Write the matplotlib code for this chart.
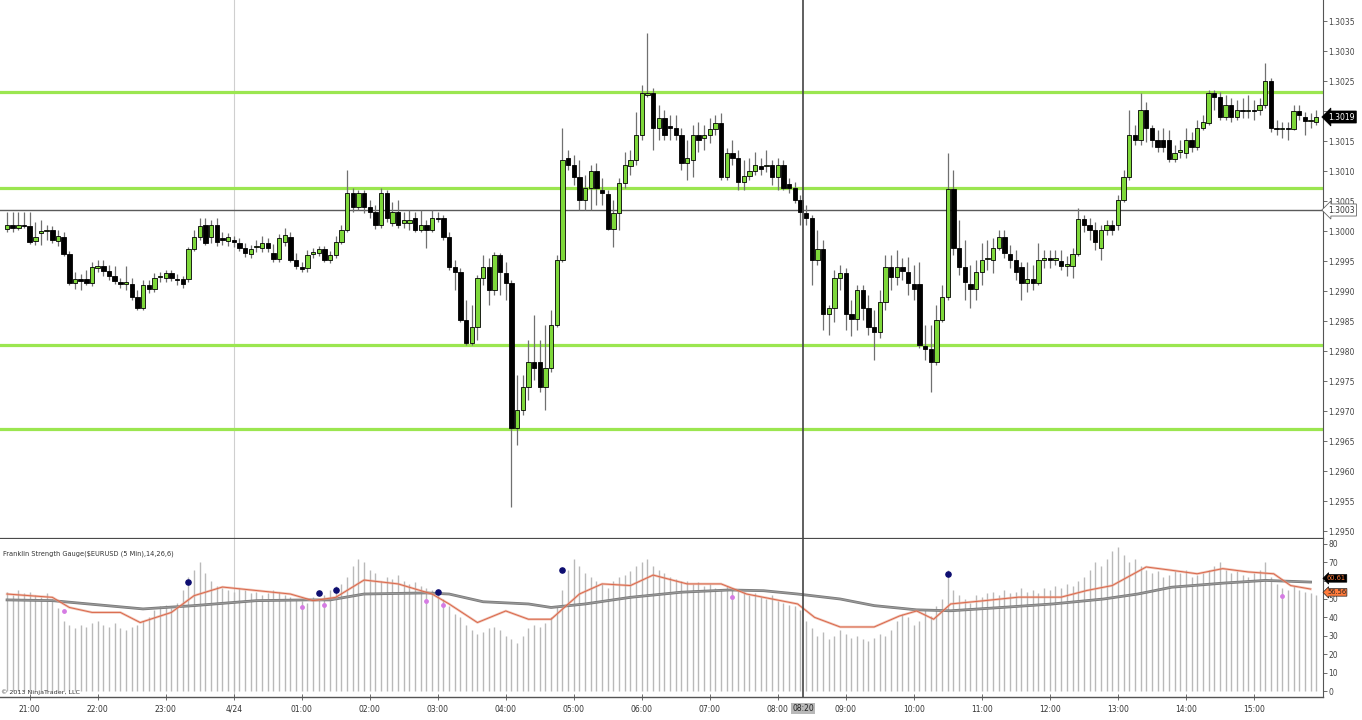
import numpy as np
import matplotlib
matplotlib.use("Agg")
import matplotlib.pyplot as plt
import matplotlib.transforms as mtransforms

# ---------------- data (price values as pips relative to BASE) ----------------
BASE = 1.3000
PIP = 0.0001
first_bar = "20:40"   # 5-minute bars, 4/23 20:40 .. 4/24 15:55

open_pips = [
    0.3, 1.0, 0.5, 1.0, 0.8, -1.7, -0.3, 0.0, 0.2, -1.7,
    -1.0, -3.8, -8.7, -8.0, -8.0, -8.7, -6.2, -5.8, -6.7, -7.5,
    -8.7, -8.8, -8.8, -11.0, -12.8, -9.0, -9.7, -7.7, -7.8, -7.0,
    -8.0, -8.0, -8.0, -3.0, -1.0, 1.0, -1.0, 1.0, -1.2, -1.7,
    -1.7, -2.0, -2.8, -3.8, -2.7, -2.8, -2.0, -3.7, -4.7, -1.8,
    -1.0, -4.8, -6.2, -6.2, -3.8, -3.7, -3.0, -4.8, -4.0, -1.8,
    0.2, 6.3, 4.0, 6.3, 4.0, 3.2, 1.0, 6.3, 1.3, 3.2,
    1.3, 1.3, 2.2, 0.2, 1.0, 0.2, 2.2, 2.2, -1.0, -6.0,
    -6.8, -14.8, -18.7, -16.0, -7.8, -6.0, -9.8, -4.0, -7.0, -8.7,
    -32.8, -29.8, -26.0, -21.8, -21.8, -26.0, -22.8, -15.7, -4.8, 12.2,
    11.0, 9.0, 5.2, 7.2, 10.0, 6.8, 6.2, 0.3, 3.0, 8.0,
    10.8, 11.8, 16.0, 22.7, 23.0, 17.2, 18.8, 17.3, 17.2, 16.0,
    11.3, 11.8, 16.0, 15.5, 16.0, 17.0, 18.0, 9.0, 13.0, 12.2,
    8.2, 9.2, 10.0, 10.8, 10.8, 11.0, 9.0, 11.0, 7.8, 7.2,
    5.2, 3.0, 2.2, -4.8, -3.0, -13.8, -12.8, -7.8, -7.0, -13.8,
    -14.7, -9.8, -12.8, -16.0, -16.8, -11.8, -6.0, -7.7, -6.0, -6.8,
    -8.8, -8.8, -19.2, -19.7, -21.8, -14.8, -11.0, 7.0, -2.8, -6.0,
    -8.8, -9.7, -6.8, -4.7, -4.8, -2.8, -1.0, -3.8, -4.8, -6.0,
    -8.7, -8.0, -8.7, -4.8, -4.7, -4.8, -5.0, -5.8, -5.8, -3.8,
    2.0, 1.0, 0.2, -2.8, 0.2, 1.0, 1.0, 5.2, 9.0, 16.0,
    15.2, 20.2, 17.2, 15.2, 15.2, 15.2, 12.0, 13.2, 13.0, 15.2,
    14.0, 17.2, 18.0, 23.0, 22.3, 19.0, 21.0, 19.0, 20.2, 20.0,
    20.2, 20.2, 21.0, 25.0, 17.2, 17.0, 17.2, 17.0, 20.0, 19.0,
    18.3, 18.2,
]
high_pips = [
    3.2, 3.2, 3.2, 3.2, 3.2, 1.5, 1.8, 1.0, 0.8, 0.2,
    -0.2, -3.3, -6.8, -7.2, -6.5, -5.2, -4.8, -4.8, -5.7, -5.8,
    -7.8, -5.8, -7.8, -9.8, -8.2, -8.2, -7.0, -6.8, -6.5, -6.5,
    -7.2, -7.5, -2.7, 0.2, 2.2, 2.2, 1.8, 2.2, -0.2, -0.3,
    -0.8, -1.2, -2.0, -2.3, -1.5, -0.8, -1.2, -2.2, -0.5, 0.5,
    -0.2, -3.7, -5.2, -3.2, -2.8, -2.5, -2.5, -3.3, -0.8, 1.0,
    10.2, 7.2, 6.8, 6.8, 5.2, 4.3, 7.2, 6.8, 4.8, 5.2,
    3.2, 3.5, 3.2, 3.5, 1.8, 3.5, 3.2, 2.7, -0.2, -4.8,
    -6.2, -11.5, -12.3, -7.3, -4.0, -4.5, -3.5, -3.7, -5.2, -8.2,
    -24.0, -24.0, -18.2, -14.0, -18.2, -15.7, -13.2, -4.0, 17.2, 13.5,
    12.7, 11.8, 9.3, 11.0, 11.3, 8.8, 6.8, 5.2, 8.8, 13.2,
    13.5, 19.8, 24.3, 33.0, 23.8, 21.0, 20.2, 19.3, 19.3, 17.2,
    15.2, 17.7, 18.2, 17.7, 18.8, 19.3, 19.7, 13.8, 15.2, 13.5,
    11.8, 12.2, 13.2, 12.2, 13.5, 11.8, 12.2, 11.8, 8.8, 8.2,
    6.0, 4.3, 2.7, 0.2, -1.5, -12.3, -6.5, -5.7, -6.2, -11.5,
    -9.0, -9.0, -10.7, -13.2, -9.8, -4.0, -4.0, -3.2, -4.5, -4.3,
    -5.7, -5.2, -15.7, -15.7, -12.3, -9.0, 13.0, 10.2, 1.8, -1.5,
    -5.7, -4.8, -2.0, -1.5, -1.2, 0.2, 0.2, -2.3, -3.2, -5.2,
    -5.2, -5.7, -2.0, -3.2, -3.2, -3.2, -3.2, -4.2, -2.8, 3.8,
    2.7, 2.2, 1.5, 1.0, 1.8, 1.8, 6.0, 10.2, 20.2, 17.7,
    23.0, 21.5, 17.7, 16.8, 17.2, 16.8, 14.3, 15.2, 17.2, 16.5,
    18.5, 19.3, 23.5, 23.5, 23.2, 22.7, 22.2, 21.8, 22.2, 22.7,
    21.8, 22.2, 28.0, 25.5, 18.5, 18.2, 18.2, 21.0, 21.0, 19.8,
    19.7, 20.2,
]
low_pips = [
    -0.2, -0.2, 0.2, 0.5, -2.2, -2.3, -2.3, -1.5, -2.0, -2.5,
    -4.2, -9.0, -9.7, -9.8, -9.0, -9.2, -6.8, -7.5, -8.2, -8.8,
    -9.5, -9.8, -11.5, -13.2, -13.2, -10.3, -10.2, -8.5, -8.5, -8.3,
    -9.0, -9.5, -8.5, -3.3, -1.5, -2.3, -2.0, -2.5, -2.3, -2.5,
    -2.7, -3.3, -4.3, -4.5, -3.5, -3.5, -3.5, -5.2, -5.2, -2.5,
    -5.2, -6.3, -6.8, -6.8, -4.5, -4.2, -5.2, -5.3, -4.5, -2.2,
    -0.2, 3.2, 3.5, 3.0, 2.2, 0.3, 0.5, 1.5, 0.8, 0.5,
    0.5, 0.2, -0.2, -0.2, -2.8, -0.2, 1.5, -1.5, -6.5, -9.8,
    -15.2, -19.0, -19.0, -18.2, -9.0, -12.3, -10.7, -10.7, -11.5, -46.0,
    -35.7, -30.7, -28.2, -24.8, -26.8, -29.8, -23.5, -16.0, -5.2, 10.2,
    7.7, 3.5, 3.5, 3.5, 4.3, 4.3, 0.2, -2.7, 0.2, 7.2,
    9.3, 11.0, 15.2, 22.3, 13.5, 15.2, 15.2, 15.2, 15.2, 10.2,
    8.5, 9.0, 13.2, 13.5, 14.7, 16.0, 8.5, 8.5, 11.0, 6.8,
    6.8, 8.5, 9.3, 9.3, 9.8, 7.7, 6.8, 6.8, 6.3, 4.7,
    1.0, 1.0, -9.0, -5.7, -16.5, -17.3, -15.2, -9.8, -16.5, -17.5,
    -16.5, -14.8, -17.3, -21.5, -17.8, -13.2, -9.8, -9.0, -8.2, -10.7,
    -11.5, -19.5, -21.5, -26.8, -22.3, -15.2, -11.5, -4.0, -7.3, -11.5,
    -12.8, -11.5, -9.0, -6.5, -7.0, -3.2, -4.5, -6.2, -8.2, -11.5,
    -10.2, -9.8, -9.0, -6.2, -6.2, -5.7, -6.5, -7.5, -7.8, -4.2,
    -0.2, -1.5, -3.2, -4.8, -0.7, -0.7, 0.2, 4.8, 8.5, 14.3,
    14.3, 14.8, 14.0, 13.2, 13.2, 11.5, 11.5, 12.2, 12.2, 13.2,
    13.5, 16.8, 17.7, 20.2, 18.5, 18.5, 18.2, 18.5, 18.8, 18.8,
    18.5, 19.3, 20.5, 16.5, 16.0, 15.5, 15.2, 16.8, 18.5, 16.0,
    17.2, 17.7,
]
close_pips = [
    1.0, 0.5, 1.0, 0.8, -1.8, -1.0, 0.0, 0.2, -1.5, -0.8,
    -3.8, -8.7, -8.0, -8.3, -8.7, -6.0, -5.8, -6.7, -7.5, -8.3,
    -8.8, -8.7, -11.0, -12.8, -9.0, -9.7, -7.8, -7.5, -7.0, -7.8,
    -8.2, -8.8, -3.0, -1.0, 0.8, -2.0, 1.0, -1.8, -1.5, -1.0,
    -1.8, -2.8, -3.7, -3.0, -2.5, -2.0, -2.8, -4.7, -1.2, -0.7,
    -4.8, -5.8, -6.3, -4.0, -3.7, -3.0, -4.8, -4.0, -1.8, 0.2,
    6.3, 4.0, 6.3, 4.0, 3.2, 1.0, 6.3, 2.2, 3.2, 1.0,
    1.8, 1.8, 0.2, 1.0, 0.2, 2.2, 2.0, -1.0, -6.0, -6.8,
    -14.8, -18.7, -16.0, -7.8, -6.0, -9.8, -4.0, -6.8, -8.7, -32.8,
    -29.8, -26.0, -21.8, -22.8, -26.0, -22.8, -15.7, -4.8, 11.8, 11.0,
    9.0, 5.2, 7.2, 10.0, 7.2, 6.3, 0.3, 3.0, 8.0, 11.0,
    11.8, 16.0, 23.0, 23.0, 17.2, 18.8, 16.0, 17.2, 16.0, 11.3,
    12.2, 16.0, 15.2, 16.0, 17.0, 18.0, 9.0, 13.0, 12.2, 8.2,
    9.2, 10.0, 11.0, 10.3, 11.0, 9.0, 11.0, 7.2, 7.2, 5.2,
    3.2, 2.2, -4.8, -3.0, -13.8, -12.8, -7.8, -7.0, -13.8, -14.7,
    -9.8, -12.8, -16.0, -16.8, -11.8, -6.0, -7.7, -6.0, -6.7, -8.7,
    -9.7, -19.0, -19.7, -21.8, -14.8, -11.0, 7.0, -2.8, -6.0, -8.5,
    -9.7, -6.8, -4.8, -4.5, -2.8, -1.0, -3.7, -4.8, -6.8, -8.7,
    -8.0, -8.7, -4.8, -4.7, -4.8, -4.7, -5.8, -5.7, -3.8, 2.0,
    1.0, 0.2, -1.8, 0.2, 1.0, 0.2, 5.2, 9.0, 16.0, 15.2,
    20.2, 17.2, 15.2, 14.0, 14.0, 12.0, 13.0, 13.3, 15.2, 14.0,
    17.2, 18.2, 23.0, 22.3, 19.0, 21.0, 19.0, 20.2, 20.0, 20.2,
    20.0, 21.0, 25.0, 17.2, 17.0, 17.2, 17.0, 20.0, 19.3, 18.3,
    18.5, 19.0,
]

# support / resistance lines and crosshair
levels = [1.30232, 1.30072, 1.29810, 1.29670]
crosshair_price = 1.30035
crosshair_label = "1.3003"
last_price = 1.3019
last_price_label = "1.3019"
crosshair_time = "08:20"

# Franklin Strength Gauge histogram (one value per bar)
gauge = [
    54, 52, 55, 53, 54, 52, 51, 53, 50,
    45, 38, 36, 34, 36, 35, 37, 38, 36, 35, 37, 34, 33, 35, 36,
    38, 40, 44, 46, 47, 45, 48,
    55, 62, 66, 70, 64, 60,
    57, 56, 55, 54, 56, 55, 53, 54, 52, 53, 55, 54, 52, 51,
    50, 49, 48, 51, 50, 52, 55, 57, 58,
    62, 68, 72, 70, 66, 64,
    60, 62, 61, 63, 60, 58, 59, 57, 56,
    55, 52, 50, 46, 42, 40,
    36, 33, 31, 32, 34, 35, 33, 30, 28,
    26, 30, 34, 36, 35, 37, 40,
    46, 55, 66, 72, 68, 64, 62, 60,
    58, 56, 60, 62, 63, 65, 68, 70, 72, 68, 66, 64, 62, 61, 60,
    60, 58, 59, 57, 58, 56, 55, 57, 56,
    55, 54, 52, 53, 51, 50, 52, 49, 48, 47, 46, 44,
    38, 34, 30, 32, 28, 30, 33, 31, 29, 30, 28, 27, 29, 31, 30, 33,
    38, 42, 40, 36, 38, 44, 41, 46, 50,
    66,
    55, 52, 50, 48, 52, 51, 53, 54, 52, 55, 53, 54, 56, 54, 55, 53, 56, 55, 57, 56, 58, 57, 60,
    62, 66, 70, 68, 72, 76, 78, 74, 70, 72, 68, 66,
    64, 65, 62, 63, 65, 64, 66, 62, 63, 64, 66, 68, 70, 66, 64, 65, 63, 62, 64, 66, 70, 62,
    58, 56, 55, 57, 55, 54, 53, 52,
]
# fast (orange) and slow (gray) gauge lines: bar index / value vertices
fast_idx = [0, 8, 11, 15, 20, 23.5, 29, 33, 38, 44, 50, 54, 58, 63, 69, 75, 78, 83, 88, 92,
            96, 101, 105, 110, 114, 120, 126, 130.5, 135, 139.5, 142.5, 147, 153, 157.5, 160.5,
            163.5, 166.5, 172.5, 178.5, 186, 190.5, 195, 201, 205.5, 210, 214.5, 219, 223.5, 226.5, 230]
fast_val = [52.7, 50.9, 45.4, 42.7, 42.7, 37.2, 42.7, 51.8, 56.5, 54.6, 52.7, 49.1, 50.9, 60.3, 58.2,
            52.7, 47.3, 37.2, 43.5, 39.0, 39.0, 52.7, 58.2, 57.3, 63.0, 58.2, 58.2, 52.7, 50.0, 47.3,
            40.0, 34.8, 34.8, 40.8, 43.5, 39.0, 47.3, 49.1, 51.0, 51.0, 54.6, 57.3, 67.4, 65.6, 63.7,
            66.5, 64.7, 63.7, 57.3, 55.4]
slow_idx = [0, 8, 24, 33, 44, 53, 57, 63, 74, 78, 84, 92, 96, 102, 110, 119, 127.5, 133.5, 139.5,
            147, 153, 160.5, 166.5, 175.5, 184.5, 193.5, 199.5, 205.5, 214.5, 222, 230]
slow_val = [49.5, 49.1, 44.6, 46.4, 49.1, 49.5, 49.5, 52.7, 53.3, 52.7, 48.5, 47.3, 45.4, 47.3,
            50.9, 53.7, 54.9, 54.5, 52.7, 50.0, 46.4, 44.1, 43.6, 45.4, 47.3, 50.0, 52.7, 56.4,
            58.6, 60.1, 59.2]
blue_idx = [32, 55, 58, 76, 98, 166]
blue_val = [59.0, 53.0, 55.0, 54.0, 66.0, 63.6]
pink_idx = [10, 52, 56, 74, 77, 128, 225]
pink_val = [43.5, 45.7, 47.0, 49.0, 47.0, 51.0, 51.6]
gauge_labels = ["60.61", "56.56"]

hour_labels = ["21:00", "22:00", "23:00", "4/24", "01:00", "02:00", "03:00", "04:00", "05:00",
               "06:00", "07:00", "08:00", "09:00", "10:00", "11:00", "12:00", "13:00", "14:00", "15:00"]

# ---------------- derived ----------------
o = BASE + np.array(open_pips) * PIP
h = BASE + np.array(high_pips) * PIP
l = BASE + np.array(low_pips) * PIP
c = BASE + np.array(close_pips) * PIP
n = len(o)
idx = np.arange(n)
bars_per_hour = 12
fh, fm = map(int, first_bar.split(":"))
first_tick = ((60 - fm) % 60) // 5
tick_pos = [first_tick + k * bars_per_hour for k in range(len(hour_labels))]
ch, cm = map(int, crosshair_time.split(":"))
cross_idx = ((ch + 24 - fh) * 60 + cm - fm) // 5 + 0.5

GREEN = "#7ed83a"
LINE_GREEN = "#9be650"

W, H = 1362, 720
fig = plt.figure(figsize=(W / 100, H / 100), dpi=100)
fig.patch.set_facecolor("white")


def px_axes(x0, y0, x1, y1):
    return fig.add_axes([x0 / W, 1 - y1 / H, (x1 - x0) / W, (y1 - y0) / H])


ax = px_axes(0, 0, 1323, 539)
ax2 = px_axes(0, 539, 1323, 697)

xlim = (-1.24, 232.2)
for a in (ax, ax2):
    a.set_xlim(*xlim)
    a.set_facecolor("white")
    for s in ("left", "top"):
        a.spines[s].set_visible(False)
    a.spines["right"].set_color("#555555")
    a.spines["bottom"].set_color("#555555")
    a.yaxis.tick_right()
    a.tick_params(axis="y", which="both", direction="out", length=3, width=0.6,
                  colors="#555555", labelsize=5.5, labelcolor="#444444", pad=1)

# ---- price panel ----
ax.set_ylim(1.294867, 1.30385)
ax.spines["bottom"].set_linewidth(1.6)
ax.spines["bottom"].set_color("#4a4a4a")
yt = np.arange(1.2950, 1.30351, 0.0005)
ax.set_yticks(yt)
# the 1.3020 label sits behind the last-price marker in the reference
ax.set_yticklabels(["" if abs(v - 1.3020) < 1e-6 else f"{v:.4f}" for v in yt])
ax.set_xticks([])

for lv in levels:
    ax.axhline(lv, color=LINE_GREEN, lw=2.3, zorder=1)
ax.axhline(crosshair_price, color="#5a5a5a", lw=1.0, zorder=1)
ax.axvline(40, color="#cfcfcf", lw=0.8, zorder=0)
ax.axvline(cross_idx, color="#444444", lw=1.2, zorder=5)

up = c >= o
ax.vlines(idx, l, h, color="#707070", lw=0.9, zorder=2)
body_h = np.maximum(np.abs(c - o), 0.000025)
ax.bar(idx, body_h, bottom=np.minimum(o, c), width=0.78,
       color=np.where(up, GREEN, "black"), edgecolor="black", linewidth=0.6, zorder=3)

tr = mtransforms.blended_transform_factory(ax.transAxes, ax.transData)
ax.text(1.004, last_price, last_price_label, transform=tr, fontsize=5.5, color="white",
        va="center", ha="left",
        bbox=dict(boxstyle="larrow,pad=0.2", fc="black", ec="black", lw=0.5), zorder=10,
        clip_on=False)
ax.text(1.004, crosshair_price, crosshair_label, transform=tr, fontsize=5.5, color="#333333",
        va="center", ha="left",
        bbox=dict(boxstyle="larrow,pad=0.2", fc="white", ec="#666666", lw=0.6), zorder=10,
        clip_on=False)

# ---- indicator panel ----
ax2.set_ylim(-3.26, 82.6)
ax2.set_yticks(np.arange(0, 81, 10))
ax2.set_yticklabels(["" if v == 60 else str(v) for v in range(0, 81, 10)])
ax2.spines["bottom"].set_linewidth(1.0)
ax2.vlines(idx, 0, gauge, color="#b9b9b9", lw=1.0, zorder=1)
ax2.plot(slow_idx, slow_val, color="#7a7a7a", lw=2.0, zorder=3)
ax2.plot(slow_idx, slow_val, color="#9a9a9a", lw=0.8, zorder=3)
ax2.plot(fast_idx, fast_val, color="#e8a08a", lw=1.8, alpha=0.6, zorder=4)
ax2.plot(fast_idx, fast_val, color="#d9674a", lw=0.7, zorder=4)
ax2.scatter(blue_idx, blue_val, s=14, color="#0d0d70", zorder=5)
ax2.scatter(pink_idx, pink_val, s=6, color="#d57be3", zorder=5)
ax2.axvline(40, color="#cfcfcf", lw=0.8, zorder=0)
ax2.axvline(cross_idx, color="#444444", lw=1.2, zorder=6)

ax2.set_xticks(tick_pos)
ax2.set_xticklabels(hour_labels)
ax2.tick_params(axis="x", direction="inout", length=5, width=0.6, colors="#555555",
                labelsize=5.5, labelcolor="#333333", pad=3)

ax2.text(0.002, 0.93, "Franklin Strength Gauge($EURUSD (5 Min),14,26,6)", transform=ax2.transAxes,
         fontsize=4.8, color="#333333", va="top", ha="left")
ax2.text(0.001, 0.015, "\u00a9 2013 NinjaTrader, LLC", transform=ax2.transAxes,
         fontsize=4.6, color="#333333", va="bottom", ha="left")

tr2 = mtransforms.blended_transform_factory(ax2.transAxes, ax2.transData)
ax2.text(1.003, 61.2, gauge_labels[0], transform=tr2, fontsize=4.8, color="#ff7a3a", va="center",
         ha="left", bbox=dict(boxstyle="larrow,pad=0.12", fc="black", ec="black", lw=0.5),
         zorder=10, clip_on=False)
ax2.text(1.003, 53.6, gauge_labels[1], transform=tr2, fontsize=4.8, color="#222222", va="center",
         ha="left", bbox=dict(boxstyle="larrow,pad=0.12", fc="#ff7a3a", ec="#222222", lw=0.5),
         zorder=11, clip_on=False)

trx = mtransforms.blended_transform_factory(ax2.transData, ax2.transAxes)
ax2.text(cross_idx, -0.075, crosshair_time, transform=trx, fontsize=5.5, color="#222222",
         va="center", ha="center", bbox=dict(boxstyle="square,pad=0.15", fc="#b8b8b8", ec="none"),
         zorder=10, clip_on=False)

fig.savefig("out.png", dpi=100, facecolor="white")
